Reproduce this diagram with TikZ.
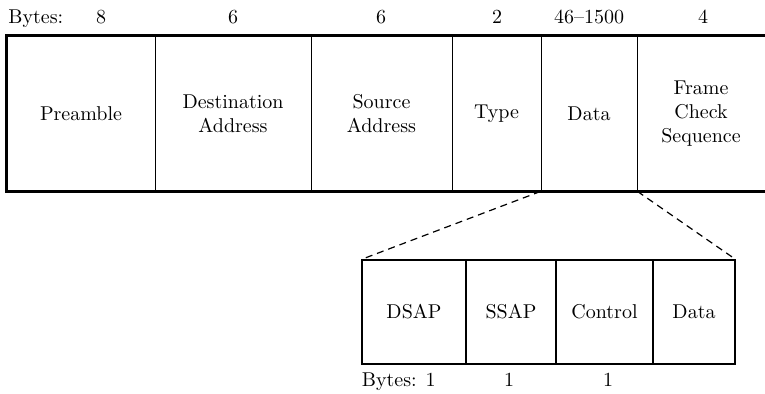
\documentclass[tikz,border=0pt]{standalone}
\begin{document}
\begin{tikzpicture}[x=0.5pt,y=-0.5pt,
  cell/.style={inner sep=0pt, align=center, minimum height=77.5pt},
  subcell/.style={inner sep=0pt, align=center, minimum height=52pt, draw, line width=0.6pt},
  thickline/.style={line width=1.5pt, line join=miter},
  thinline/.style={line width=0.7pt},
  zoomline/.style={line width=0.6pt, dash pattern=on 3.5pt off 2.5pt},
  lbl/.style={inner sep=0pt, anchor=base}]
\useasboundingbox (0,0) rectangle (765,394);
% main frame cells
\node[cell, minimum width=74pt]   (pre) at (81,113.5)   {Preamble};
\node[cell, minimum width=78pt]   (dst) at (233,113.5)  {Destination\\Address};
\node[cell, minimum width=70.5pt] (src) at (381.5,113.5){Source\\Address};
\node[cell, minimum width=44.5pt] (typ) at (496.5,113.5){Type};
\node[cell, minimum width=48pt]   (dat) at (589,113.5)  {Data};
\node[cell, minimum width=64pt]   (fcs) at (701,113.5)  {Frame\\Check\\Sequence};
\draw[thickline] (fcs.north east) -- (pre.north west) -- (pre.south west) -- (fcs.south east);
\foreach \n in {pre,dst,src,typ,dat}
  \draw[thinline] (\n.north east) -- (\n.south east);
% byte counts
\node[lbl, anchor=base west] (bytes) at (8,24) {Bytes:};
\node[lbl] (b1) at (101,24) {8};
\node[lbl] (b2) at (233,24) {6};
\node[lbl] (b3) at (381,24) {6};
\node[lbl] (b4) at (497,24) {2};
\node[lbl] (b5) at (589,24) {46--1500};
\node[lbl] (b6) at (703,24) {4};
% sub frame
\node[subcell, minimum width=52pt]   (dsap) at (414,312)   {DSAP};
\node[subcell, minimum width=45pt]   (ssap) at (511,312)   {SSAP};
\node[subcell, minimum width=48.5pt] (ctl)  at (604.5,312) {Control};
\node[subcell, minimum width=41pt]   (dat2) at (694,312)   {Data};
\draw[zoomline] (dat.south west) -- (dsap.north west);
\draw[zoomline] (dat.south east) -- (dat2.north east);
\node[lbl, anchor=base west] (sbytes) at (361.5,387) {Bytes: 1};
\node[lbl] (s2) at (509,387) {1};
\node[lbl] (s3) at (608,387) {1};
\end{tikzpicture}
\end{document}
